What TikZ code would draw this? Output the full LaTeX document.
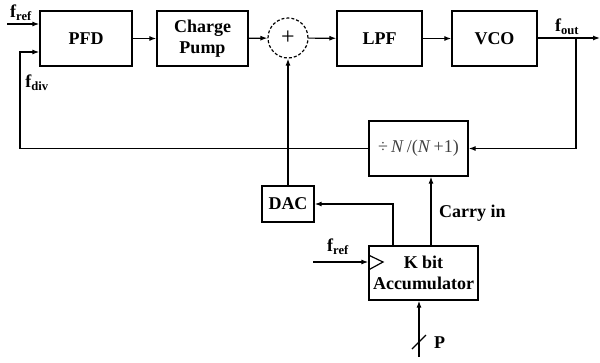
\documentclass[tikz,border=0pt]{standalone}
\usepackage{fontspec}
\setmainfont{Liberation Serif}
\usetikzlibrary{arrows.meta,positioning}

\tikzset{
  block/.style={draw,thick,line width=1.3pt,minimum height=55pt,align=center,
    font=\fontsize{18}{21}\selectfont\bfseries,inner sep=2pt},
  wire/.style={line width=1.2pt},
  arr/.style={wire,-{Latex[length=7pt,width=5pt]}},
  lbl/.style={font=\fontsize{18}{19}\selectfont\bfseries,inner sep=0pt}
}

\begin{document}
\begin{tikzpicture}[x=1pt,y=-1pt]
  \useasboundingbox (0,0) rectangle (600,362);

  % forward path
  \node[block,minimum width=92pt] (pfd) at (86,38.5) {PFD};
  \node[block,minimum width=91pt] (cp) at (202.5,38.5) {Charge\\Pump};
  \node[draw,circle,densely dashed,line width=1.2pt,minimum size=40pt,inner sep=0pt,
    font=\fontsize{24}{24}\selectfont] (sum) at (288,38) {+};
  \node[block,minimum width=85pt] (lpf) at (379.5,38.5) {LPF};
  \node[block,minimum width=85pt] (vco) at (494.5,38.5) {VCO};

  % divider, DAC and accumulator
  \node[block,minimum width=99pt,font=\fontsize{18}{19}\selectfont,text=black!75]
    (div) at (418.5,148.5) {÷\,\textit{N}\,/(\textit{N}\,+1)};
  \node[block,minimum width=52pt,minimum height=36pt] (dac) at (288,204) {DAC};
  \node[block,minimum width=109pt,minimum height=54pt] (acc) at (423.5,273)
    {K bit\\Accumulator};

  % end points
  \coordinate (fin) at (7,24);
  \coordinate (fout) at (600,38);
  \coordinate (tap) at (576,38);
  \coordinate (fin2) at (313,262);
  \coordinate (pin) at (419,357);

  % connectors
  \draw[arr] (fin) -- (fin -| pfd.west);
  \draw[arr] (pfd) -- (cp);
  \draw[arr] (cp) -- (sum);
  \draw[arr] (sum) -- (lpf);
  \draw[arr] (lpf) -- (vco);
  \draw[arr] (vco.east |- fout) -- (fout);
  \draw[arr] (tap) |- (div.east);
  \draw[arr] (div.west) -| (20,52) -- (pfd.west |- 0,52);
  \draw[arr] (dac.north) -- (sum.south);
  \draw[arr] (acc.north -| 393,0) |- (dac.east);
  \draw[arr] (acc.north -| 431,0) -- (div.south -| 431,0);
  \draw[arr] (fin2) -- (fin2 -| acc.west);
  \draw[arr] (pin) -- (pin |- acc.south);

  % clock mark and bus slash
  \draw[wire] (acc.west |- 0,255) -- (383,262) -- (acc.west |- 0,270);
  \draw[wire] (412,349) -- (426,335);

  % labels
  \node[lbl] (lref) at (21,13) {f\textsubscript{ref}};
  \node[lbl] (ldiv) at (37,83) {f\textsubscript{div}};
  \node[lbl] (lout) at (567,27) {f\textsubscript{out}};
  \node[lbl] (lref2) at (338,247) {f\textsubscript{ref}};
  \node[lbl,anchor=west] (lcarry) at (439,213) {Carry in};
  \node[lbl,anchor=west] (lp) at (434,343) {P};
\end{tikzpicture}
\end{document}
